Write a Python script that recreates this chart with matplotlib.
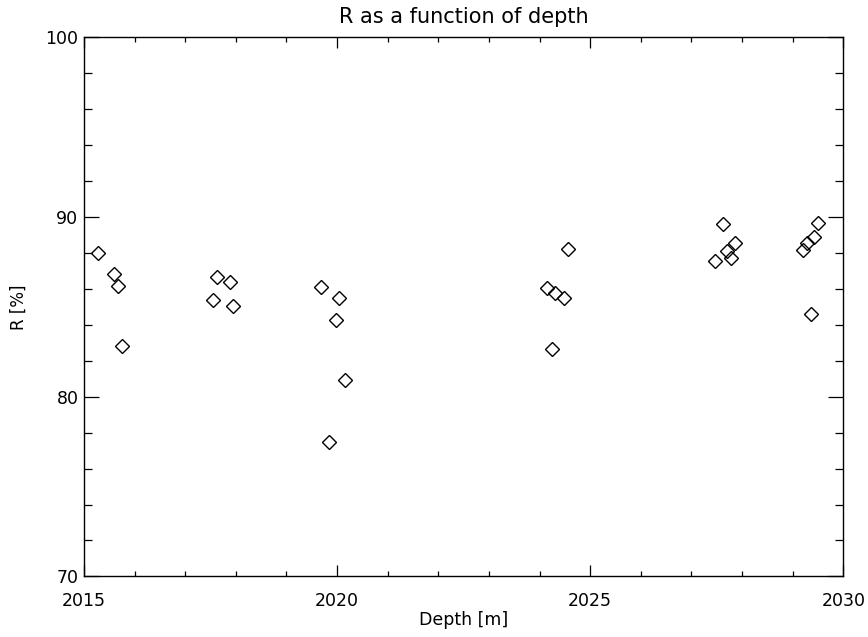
import matplotlib.pyplot as plt
from matplotlib.ticker import MultipleLocator

# depth [m] and R [%]
depth = [2015.27, 2015.59, 2015.67, 2015.75,
         2017.55, 2017.63, 2017.88, 2017.95,
         2019.68, 2019.84, 2019.98, 2020.04, 2020.16,
         2024.14, 2024.25, 2024.30, 2024.48, 2024.56,
         2027.46, 2027.62, 2027.70, 2027.78, 2027.86,
         2029.20, 2029.28, 2029.36, 2029.43, 2029.51]
r_pct = [87.98, 86.84, 86.16, 82.84,
         85.36, 86.64, 86.40, 85.05,
         86.10, 77.46, 84.27, 85.51, 80.95,
         86.03, 82.64, 85.75, 85.52, 88.22,
         87.53, 89.59, 88.09, 87.72, 88.55,
         88.15, 88.54, 84.60, 88.90, 89.67]

x_range = (2015, 2030)
y_range = (70, 100)

plt.rcParams['font.family'] = ['DejaVu Sans']

fig = plt.figure(figsize=(8.68, 6.37), dpi=100)
ax = fig.add_axes([0.0968, 0.0951, 0.8747, 0.8463])

ax.plot(depth, r_pct, linestyle='none', marker='D', markersize=7,
        markerfacecolor='none', markeredgecolor='black', markeredgewidth=1.0)

ax.set_xlim(*x_range)
ax.set_ylim(*y_range)
ax.xaxis.set_major_locator(MultipleLocator(5))
ax.xaxis.set_minor_locator(MultipleLocator(1))
ax.yaxis.set_major_locator(MultipleLocator(10))
ax.yaxis.set_minor_locator(MultipleLocator(2))

# IDL style: inward ticks on every side
ax.tick_params(axis='both', which='both', direction='in', top=True, right=True,
               labelsize=12.5, width=0.9, color='black')
ax.tick_params(axis='x', which='major', length=7.8, pad=11)
ax.tick_params(axis='x', which='minor', length=3.9)
ax.tick_params(axis='y', which='major', length=10.9, pad=4)
ax.tick_params(axis='y', which='minor', length=5.5)
for sp in ax.spines.values():
    sp.set_linewidth(1.0)

ax.set_title('R as a function of depth', fontsize=15, pad=10)
ax.set_xlabel('Depth [m]', fontsize=12.5, labelpad=1)
ax.set_ylabel('R [%]', fontsize=12, labelpad=13)

fig.savefig('out.png', dpi=100)
